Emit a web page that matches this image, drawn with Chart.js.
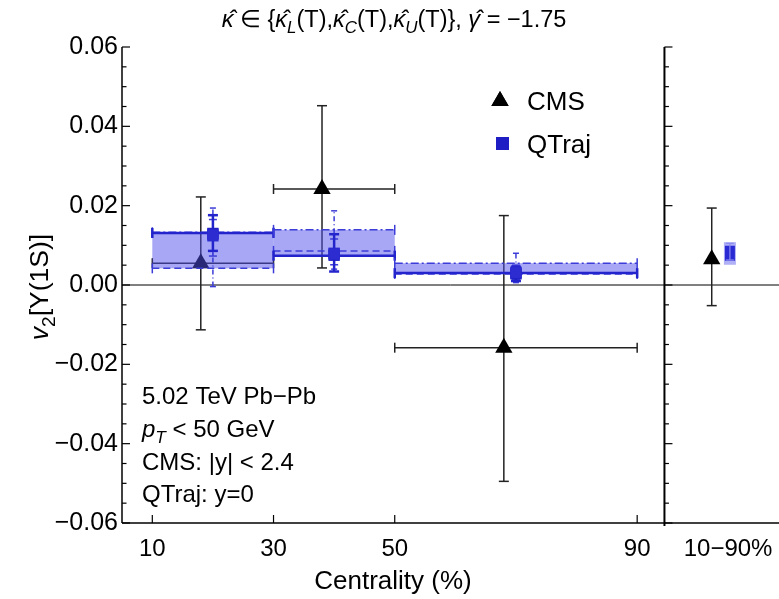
<!DOCTYPE html>
<html>
<head>
<meta charset="utf-8">
<script src="https://cdn.jsdelivr.net/npm/chart.js@4.4.0/dist/chart.umd.min.js"></script>
<style>
  html, body { margin: 0; padding: 0; background: #fff; overflow: hidden; }
  #wrap { width: 779px; height: 599px; position: relative; }
  canvas { display: block; }
</style>
</head>
<body>
<div id="wrap"><canvas id="v2Chart"></canvas></div>
<script>
// centrality bins
const binLo = [10, 30, 50];
const binHi = [30, 50, 90];

// CMS measurement (drawn a bit left of the model points)
const cmsX = [18, 38, 68];
const cmsV2 = [0.0055, 0.0242, -0.0158];
const cmsLow = [-0.0113, 0.0043, -0.0495];
const cmsHigh = [0.0222, 0.0452, 0.0175];

// QTraj bin-averaged bands, one value per bin and kappa
const bandSolid = [0.0131, 0.0074, 0.0030];
const bandDashed = [0.0042, 0.0086, 0.0028];
const bandDotDash = [0.0133, 0.0139, 0.0055];

// QTraj points with their error bars
const qtX = [20, 40, 70];
const qtSolid = [0.0130, 0.0075, 0.0028];
const qtSolidLow = [0.0086, 0.0034, 0.0010];
const qtSolidHigh = [0.0176, 0.0128, 0.0046];
const qtDashed = [0.0128, 0.0080, 0.0030];
const qtDashedLow = [0.0073, 0.0051, 0.0013];
const qtDashedHigh = [0.0165, 0.0116, 0.0050];
const qtDotDash = [0.0124, 0.0078, 0.0032];
const qtDotDashLow = [-0.0004, 0.0040, 0.0006];
const qtDotDashHigh = [0.0194, 0.0187, 0.0080];

// integrated 10-90% panel: [value, low, high]
const intCmsX = 102.3;
const intQtX = 105.3;
const intLabelX = 105;
const intLabel = '10−90%';
const intCms = [0.0065, -0.0052, 0.0194];
const intQt = [0.0080, 0.0063, 0.0105];
const intQtOuter = [0.0051, 0.0108];

// axes
const xTicks = [10, 30, 50, 90];
const yTicks = [-0.06, -0.04, -0.02, 0, 0.02, 0.04, 0.06];
const panelEdge = 94.5;

const FONT = '"Liberation Sans", Arial, Helvetica, sans-serif';
const BLUE = '#2424cc';
const BLUE_THIN = '#3c3cd8';
const FILL = 'rgba(80, 80, 235, 0.5)';

function richFont(style, size) {
    const s = style.includes('sub') ? size * 0.72 : size;
    return (style.includes('i') ? 'italic ' : '') + s + 'px ' + FONT;
}

function drawRich(ctx, parts, x, y, size, align) {
    ctx.save();
    ctx.textBaseline = 'alphabetic';
    ctx.textAlign = 'left';
    ctx.fillStyle = '#000';
    let w = 0;
    parts.forEach(p => { ctx.font = richFont(p[1], size); w += ctx.measureText(p[0]).width; });
    let cx = align === 'center' ? x - w / 2 : x;
    parts.forEach(p => {
        ctx.font = richFont(p[1], size);
        const dy = p[1].includes('sub') ? size * 0.25 : 0;
        ctx.fillText(p[0], cx, y + dy);
        cx += ctx.measureText(p[0]).width;
    });
    ctx.restore();
}

function line(ctx, x1, y1, x2, y2) {
    ctx.beginPath();
    ctx.moveTo(x1, y1);
    ctx.lineTo(x2, y2);
    ctx.stroke();
}

// vertical error bar with caps
function vBar(ctx, px, lo, hi, cap) {
    line(ctx, px, lo, px, hi);
    ctx.setLineDash([]);
    line(ctx, px - cap, lo, px + cap, lo);
    line(ctx, px - cap, hi, px + cap, hi);
}

// horizontal bar with end caps
function hBar(ctx, x1, x2, py, cap) {
    line(ctx, x1, py, x2, py);
    ctx.setLineDash([]);
    line(ctx, x1, py - cap, x1, py + cap);
    line(ctx, x2, py - cap, x2, py + cap);
}

const styles = [
    { vals: bandDashed, lw: 1.5, color: BLUE_THIN, dash: [7, 4] },
    { vals: bandDotDash, lw: 1.5, color: BLUE_THIN, dash: [8, 3, 2, 3] },
    { vals: bandSolid, lw: 2.5, color: BLUE, dash: [] }
];

const v2Plugin = {
    id: 'v2Plugin',
    beforeDatasetsDraw(chart) {
        const ctx = chart.ctx;
        const x = chart.scales.x, y = chart.scales.y;
        const area = chart.chartArea;
        ctx.save();
        // zero line
        ctx.strokeStyle = '#000';
        ctx.lineWidth = 1;
        line(ctx, area.left, y.getPixelForValue(0), area.right, y.getPixelForValue(0));
        // CMS error bars
        ctx.strokeStyle = '#222';
        ctx.lineWidth = 1.5;
        cmsX.forEach((cx, i) => {
            vBar(ctx, x.getPixelForValue(cx), y.getPixelForValue(cmsLow[i]), y.getPixelForValue(cmsHigh[i]), 5);
            hBar(ctx, x.getPixelForValue(binLo[i]), x.getPixelForValue(binHi[i]), y.getPixelForValue(cmsV2[i]), 5);
        });
        vBar(ctx, x.getPixelForValue(intCmsX), y.getPixelForValue(intCms[1]), y.getPixelForValue(intCms[2]), 5);
        ctx.restore();
    },
    afterDatasetDraw(chart, args) {
        if (args.index !== 0) return;
        const ctx = chart.ctx;
        const x = chart.scales.x, y = chart.scales.y;
        ctx.save();
        // bands
        binLo.forEach((lo, i) => {
            const vals = [bandSolid[i], bandDashed[i], bandDotDash[i]];
            const x1 = x.getPixelForValue(lo), x2 = x.getPixelForValue(binHi[i]);
            const yTop = y.getPixelForValue(Math.max(...vals));
            const yBot = y.getPixelForValue(Math.min(...vals));
            ctx.fillStyle = FILL;
            ctx.fillRect(x1, yTop, x2 - x1, yBot - yTop);
            styles.forEach(s => {
                ctx.strokeStyle = s.color;
                ctx.lineWidth = s.lw;
                ctx.setLineDash(s.dash);
                hBar(ctx, x1, x2, y.getPixelForValue(s.vals[i]), 5);
            });
        });
        // QTraj error bars
        const bars = [
            { lo: qtDotDashLow, hi: qtDotDashHigh, lw: 1.5, color: BLUE_THIN, dash: [5, 3, 1, 3], cap: 3 },
            { lo: qtDashedLow, hi: qtDashedHigh, lw: 1.5, color: BLUE_THIN, dash: [4, 3], cap: 4 },
            { lo: qtSolidLow, hi: qtSolidHigh, lw: 2.5, color: BLUE, dash: [], cap: 5 }
        ];
        qtX.forEach((qx, i) => {
            bars.forEach(b => {
                ctx.strokeStyle = b.color;
                ctx.lineWidth = b.lw;
                ctx.setLineDash(b.dash);
                vBar(ctx, x.getPixelForValue(qx), y.getPixelForValue(b.lo[i]), y.getPixelForValue(b.hi[i]), b.cap);
            });
        });
        // integrated QTraj box
        const qx = x.getPixelForValue(intQtX);
        const oTop = y.getPixelForValue(intQtOuter[1]), oBot = y.getPixelForValue(intQtOuter[0]);
        ctx.fillStyle = 'rgba(80, 80, 235, 0.45)';
        ctx.fillRect(qx - 6, oTop, 12, oBot - oTop);
        const iTop = y.getPixelForValue(intQt[2] - 0.0006), iBot = y.getPixelForValue(intQt[1] - 0.0002);
        ctx.fillStyle = '#2a2ad4';
        ctx.fillRect(qx - 5, iTop, 10, iBot - iTop);
        ctx.strokeStyle = '#8c8cf0';
        ctx.lineWidth = 1.2;
        ctx.setLineDash([]);
        vBar(ctx, qx, y.getPixelForValue(intQt[1]), y.getPixelForValue(intQt[2]), 4);
        ctx.restore();
    },
    afterDraw(chart) {
        const ctx = chart.ctx;
        const x = chart.scales.x, y = chart.scales.y;
        const area = chart.chartArea;
        ctx.save();
        ctx.strokeStyle = '#000';
        ctx.lineWidth = 1.5;
        ctx.setLineDash([]);
        // frame: left axis, bottom axis, panel separator
        const sep = x.getPixelForValue(panelEdge);
        line(ctx, area.left, area.top, area.left, area.bottom);
        line(ctx, area.left, area.bottom, area.right, area.bottom);
        ctx.lineWidth = 2;
        line(ctx, sep, area.top, sep, area.bottom + 3);
        ctx.lineWidth = 1.2;
        // y ticks, major and minor
        for (let k = -12; k <= 12; k++) {
            const v = k * 0.005;
            const py = y.getPixelForValue(v);
            const len = k % 4 === 0 ? 8 : 4.5;
            line(ctx, area.left, py, area.left + len, py);
            line(ctx, sep, py, sep + len, py);
        }
        xTicks.forEach(v => {
            const px = x.getPixelForValue(v);
            line(ctx, px, area.bottom, px, area.bottom - 8);
        });
        // label of the integrated panel
        drawRich(ctx, [[intLabel, '']], x.getPixelForValue(intLabelX), 556, 24, 'center');
        // title
        drawRich(ctx, [
            ['κ̂', 'i'], [' ∈ {', ''], ['κ̂', 'i'], ['L', 'isub'], ['(T),', ''],
            ['κ̂', 'i'], ['C', 'isub'], ['(T),', ''], ['κ̂', 'i'], ['U', 'isub'],
            ['(T)}, ', ''], ['γ̂', 'i'], [' = −1.75', '']
        ], 394, 27, 23.5, 'center');
        // axis titles
        drawRich(ctx, [['Centrality (%)', '']], 393, 589, 26, 'center');
        ctx.save();
        ctx.translate(38, 287);
        ctx.rotate(-Math.PI / 2);
        drawRich(ctx, [['v', 'i'], ['2', 'sub'], ['[Υ(1S)]', '']], 0, 10, 26.5, 'center');
        ctx.restore();
        // legend
        Chart.helpers.drawPoint(ctx, { pointStyle: 'triangle', radius: 10, rotation: 0, borderWidth: 0 }, 500, 101);
        ctx.fillStyle = '#000';
        ctx.fill();
        ctx.fillStyle = '#1e1ec4';
        ctx.fillRect(496, 137, 13, 13);
        drawRich(ctx, [['CMS', '']], 527, 110, 26, 'left');
        drawRich(ctx, [['QTraj', '']], 527, 153, 26, 'left');
        // info text
        drawRich(ctx, [['5.02 TeV Pb−Pb', '']], 142, 404, 24, 'left');
        drawRich(ctx, [['p', 'i'], ['T', 'isub'], [' < 50 GeV', '']], 142, 437, 24, 'left');
        drawRich(ctx, [['CMS: |y| < 2.4', '']], 142, 470, 24, 'left');
        drawRich(ctx, [['QTraj: y=0', '']], 142, 502, 24, 'left');
        ctx.restore();
    }
};

const ctx = document.getElementById('v2Chart').getContext('2d');
const v2Chart = new Chart(ctx, {
    type: 'scatter',
    data: {
        datasets: [
            {
                label: 'CMS',
                data: cmsX.map((cx, i) => ({ x: cx, y: cmsV2[i] })).concat([{ x: intCmsX, y: intCms[0] }]),
                pointStyle: 'triangle',
                pointRadius: 10,
                backgroundColor: '#000',
                borderWidth: 0,
                order: 3
            },
            {
                label: 'QTraj dot-dashed',
                data: qtX.map((qx, i) => ({ x: qx, y: qtDotDash[i] })),
                pointStyle: 'rect',
                pointRadius: 8,
                backgroundColor: '#2c2cd0',
                borderWidth: 0,
                order: 1
            },
            {
                label: 'QTraj dashed',
                data: qtX.map((qx, i) => ({ x: qx, y: qtDashed[i] })),
                pointStyle: 'rect',
                pointRadius: 8,
                backgroundColor: '#2626cc',
                borderWidth: 0,
                order: 1
            },
            {
                label: 'QTraj',
                data: qtX.map((qx, i) => ({ x: qx, y: qtSolid[i] })),
                pointStyle: 'rect',
                pointRadius: 8,
                backgroundColor: '#1c1cc0',
                borderWidth: 0,
                order: 1
            }
        ]
    },
    options: {
        responsive: true,
        maintainAspectRatio: false,
        animation: false,
        events: [],
        layout: { autoPadding: false, padding: { top: 47, left: 0, right: 0, bottom: 0 } },
        plugins: {
            legend: { display: false },
            tooltip: { enabled: false }
        },
        scales: {
            x: {
                type: 'linear',
                min: 5,
                max: 113.4,
                afterBuildTicks: s => { s.ticks = xTicks.map(v => ({ value: v })); },
                afterFit: s => { s.height = 76; },
                grid: { display: false, drawTicks: false },
                border: { display: false },
                ticks: {
                    autoSkip: false,
                    maxRotation: 0,
                    padding: 12,
                    color: '#000',
                    font: { size: 24, family: FONT }
                }
            },
            y: {
                min: -0.06,
                max: 0.06,
                afterBuildTicks: s => { s.ticks = yTicks.map(v => ({ value: v })); },
                afterFit: s => { s.width = 122; },
                grid: { display: false, drawTicks: false },
                border: { display: false },
                ticks: {
                    padding: 4,
                    color: '#000',
                    font: { size: 25, family: FONT },
                    callback: v => Math.abs(v) < 1e-9 ? '0.00' : v.toFixed(2).replace('-', '−')
                }
            }
        }
    },
    plugins: [v2Plugin]
});
</script>
</body>
</html>
